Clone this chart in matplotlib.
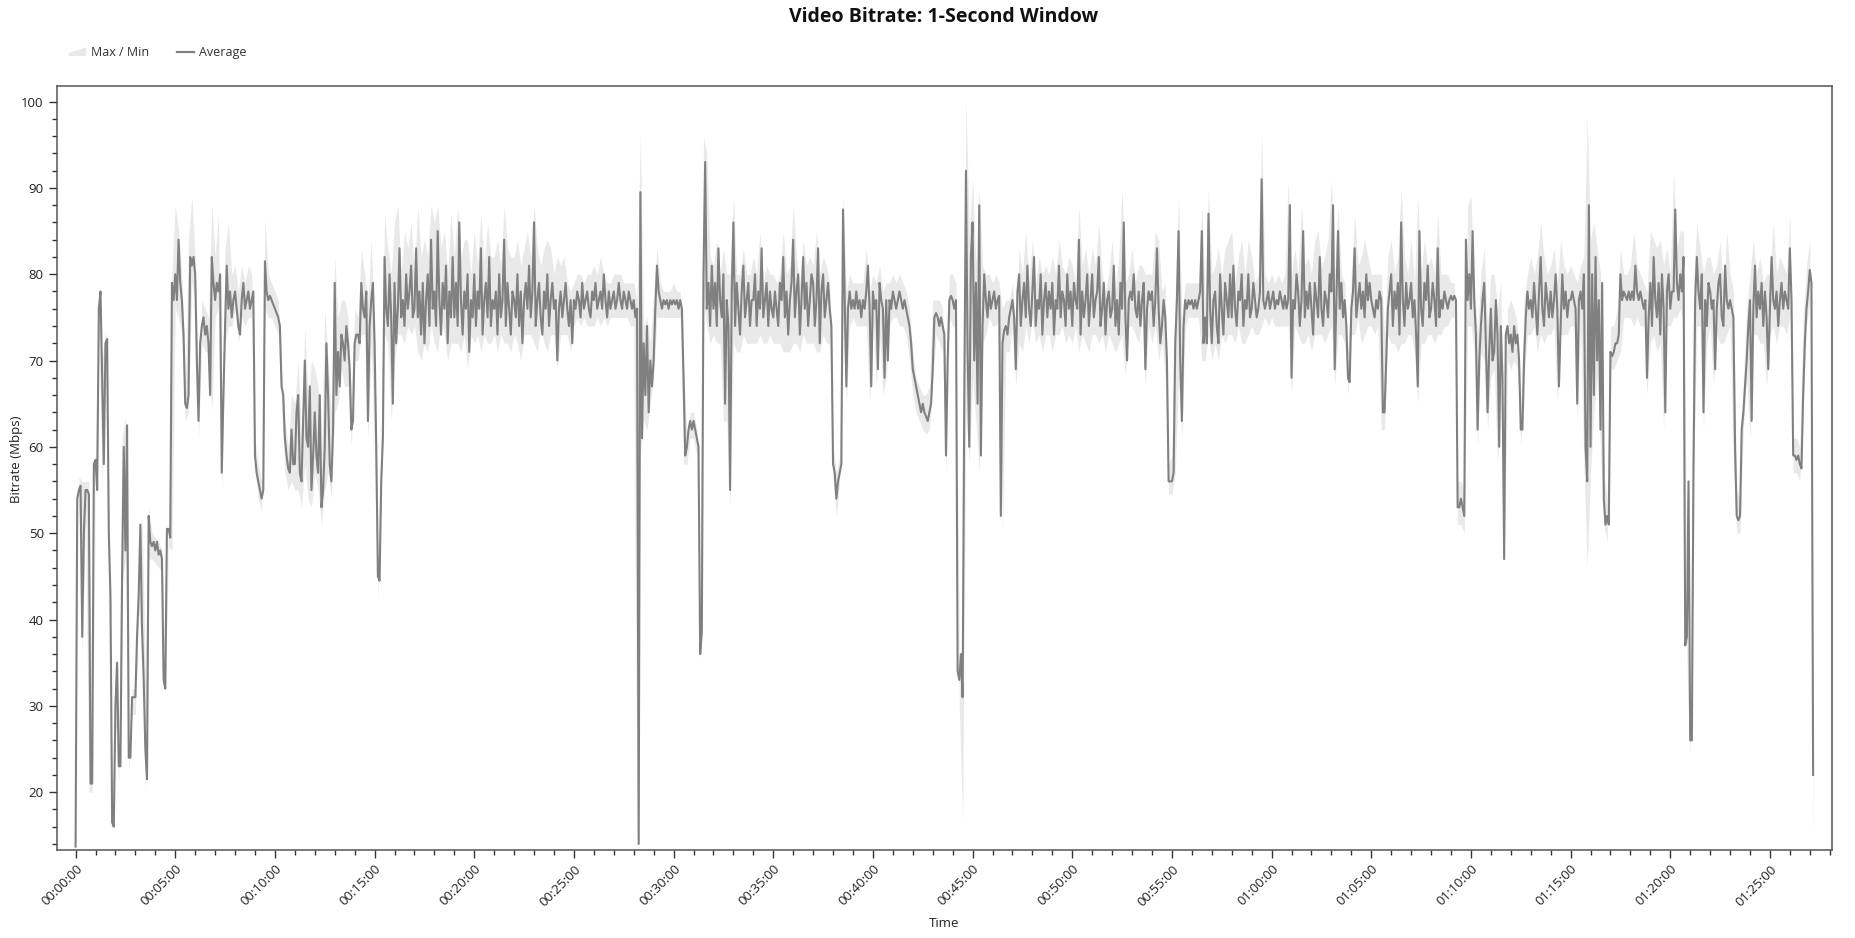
import numpy as np
import matplotlib.pyplot as plt
from matplotlib.ticker import MultipleLocator, FuncFormatter
from matplotlib.patches import Polygon, Patch
from matplotlib.lines import Line2D
from matplotlib.legend_handler import HandlerPatch

plt.rcParams['font.family'] = ['Open Sans', 'DejaVu Sans']

# average every 5 s (one row = one minute)
avg_step_s = 5
avg_mbps = [
    13.7, 54, 55, 55.5, 38, 50, 55, 55, 54.5, 21, 21, 58,
    58.5, 55, 76, 78, 68, 58, 72, 72.5, 50, 42.7, 16.5, 16,
    30, 35, 23, 23, 45, 60, 48, 62.5, 24, 24, 31, 31,
    31, 38, 43, 51, 39, 33, 25, 21.5, 52, 49, 48.5, 49,
    48, 49, 47.5, 48, 47, 33, 32, 50.5, 50.5, 49.5, 79, 77,
    80, 77, 84, 79, 77, 73, 65, 64.5, 66, 82, 81, 82,
    80, 70, 63, 72, 74, 75, 73, 74, 72, 66, 82, 79,
    77, 79, 78, 80, 57, 66, 74, 81, 76, 78, 75, 77,
    78, 76, 74, 73, 77, 79, 76, 77, 78, 76, 77, 78,
    59, 57, 56, 55, 54, 55, 81.5, 78, 77, 77.5, 77, 76.5,
    76, 75.5, 75, 74, 67, 66, 61, 59, 57.5, 57, 62, 58,      # 00:10
    58, 64, 66, 57, 56, 63, 70, 61, 60, 67, 55, 59,
    64, 59, 57, 66, 53, 55, 60, 72, 66, 58, 56, 62,
    79, 66, 71, 67, 73, 72, 70, 74, 72, 69, 62, 63,
    72, 73, 73, 72, 79, 76, 75, 78, 63, 74, 77, 79,
    72, 60, 45, 44.5, 56, 61, 82, 76, 74, 80, 75, 65,
    79, 72, 76, 83, 75, 77, 74, 80, 76, 78, 81, 75,
    76, 83, 75, 78, 73, 79, 72, 77, 80, 74, 84, 76,
    78, 74, 85, 77, 73, 79, 76, 81, 72, 78, 75, 82,
    75, 79, 74, 86, 77, 73, 78, 76, 80, 71, 77, 75,
    80, 74, 78, 76, 83, 73, 77, 79, 75, 82, 74, 77,          # 00:20
    76, 78, 73, 80, 75, 77, 84, 74, 79, 76, 73, 78,
    77, 75, 80, 74, 78, 72, 77, 79, 76, 81, 75, 78,
    86, 74, 77, 79, 75, 73, 78, 76, 80, 74, 77, 79,
    76, 77, 70, 76, 78, 75, 77, 79, 76, 74, 77, 72,
    77, 76, 78, 77, 75, 79, 76, 77, 78, 76, 75, 78,
    77, 79, 76, 77, 78, 76, 80, 77, 75, 78, 76, 77,
    78, 76, 77, 79, 77, 76, 78, 77, 76, 78, 77, 76,
    77, 75, 76, 14, 89.5, 61, 72, 66, 74, 64, 70, 67,
    70, 76, 81, 78, 77, 76, 77, 76.5, 77, 76, 77, 76.5,
    77, 76.5, 77, 76, 77, 76, 68, 59, 60, 62, 63, 62,        # 00:30
    63, 62, 61, 60, 36, 38.5, 80, 93, 76, 79, 74, 81,
    76, 79, 74, 83, 77, 75, 80, 65, 77, 74, 55, 78,
    86, 74, 79, 76, 73, 78, 81, 75, 77, 79, 74, 77,
    77, 80, 74, 78, 76, 83, 75, 77, 79, 74, 78, 76,
    75, 78, 76, 74, 79, 77, 82, 75, 78, 73, 77, 79,
    84, 75, 78, 80, 73, 77, 82, 76, 79, 74, 77, 80,
    79, 74, 77, 83, 72, 78, 80, 75, 77, 79, 76, 74,
    58, 57, 54, 56, 57, 58, 87.5, 77, 67, 76, 78, 76,
    77, 76, 78, 76, 77, 75, 77, 76, 78, 81, 76, 67,
    78, 76, 77, 69, 79, 77, 76, 68, 77, 70, 77, 76,          # 00:40
    78, 77, 76, 77, 78, 77, 76, 77, 76, 75, 74, 72,
    69, 68, 67, 66, 65, 64, 65, 64, 63.5, 63, 64, 65,
    69, 75, 75.5, 75, 74, 75, 74, 73, 59, 70, 77, 77.5,
    77, 76, 77, 34, 33, 36, 31, 66, 92, 71, 60, 82,
    86, 70, 79, 65, 88, 59, 74, 80, 77, 75, 78, 76,
    77, 78, 76, 77, 77.5, 52, 72, 73.5, 74, 73, 75, 76,
    77, 75, 69, 78, 80, 74, 77, 79, 75, 81, 76, 74,
    78, 82, 74, 77, 76, 80, 73, 77, 79, 75, 78, 76,
    79, 73, 77, 76, 81, 75, 78, 77, 74, 80, 76, 78,
    74, 79, 77, 76, 84, 73, 78, 75, 77, 80, 74, 77,          # 00:50
    80, 75, 77, 78, 82, 74, 76, 79, 73, 77, 78, 75,
    76, 81, 74, 77, 73, 79, 76, 86, 75, 70, 77, 78,
    77, 80, 76, 75, 78, 74, 77, 79, 69, 76, 78, 77,
    78, 74, 77, 83, 76, 72, 74, 77, 75, 70, 56, 56,
    56, 57, 72, 77, 85, 70, 63, 74, 77, 76, 77, 76.5,
    77, 76, 77, 76, 77, 78, 85, 72, 75, 72, 87, 76,
    72, 77, 78, 74, 72, 80, 76, 73, 79, 77, 75, 80,
    75, 81, 76, 74, 78, 77, 80, 74, 77, 76, 80, 75,
    76, 79, 77, 75, 76, 78, 91, 77, 76, 77, 78, 76,
    77, 78, 76, 77, 76.5, 78, 77, 76, 77.5, 76, 77, 88,      # 01:00
    68, 77, 76, 80, 78, 74, 77, 85, 75, 78, 76, 79,
    76, 73, 79, 77, 75, 82, 76, 74, 78, 77, 75, 80,
    78, 88, 69, 77, 85, 76, 79, 75, 77, 74, 68, 67.5,
    76, 78, 83, 75, 77, 79, 76, 78, 75, 80, 77, 79,
    77, 76, 75, 77, 76, 78, 77, 64, 64, 70, 76, 78,
    80, 74, 78, 76, 79, 73, 86, 77, 74, 79, 76, 77,
    79, 75, 77, 73, 67, 85, 76, 74, 79, 77, 81, 75,
    76, 79, 77, 74, 83, 75, 77, 76, 78, 77, 76, 77,
    77.5, 77, 77.5, 77, 53, 53, 54, 53, 52, 84, 77, 80,
    76, 85, 77, 73, 62, 70, 74, 77, 79, 72, 64, 71,          # 01:10
    76, 70, 71, 77, 73, 60, 74, 68, 47, 73, 74, 72,
    73, 71, 74, 72, 73, 70, 62, 62, 70, 75, 78, 76,
    77, 75, 79, 76, 73, 78, 82, 76, 74, 79, 77, 75,
    78, 75, 77, 80, 76, 67, 74, 80, 76, 78, 75, 77,
    77, 78, 77, 76, 65, 77, 78, 76, 80, 60, 56, 88,
    60, 80, 66, 82, 70, 77, 62, 79, 54, 51, 52, 51,
    71, 70.5, 71, 72, 72, 73, 80, 77, 78, 77.5, 77, 78,
    77, 78, 77, 81, 78, 77, 78, 77, 76, 77, 68, 75,
    79, 74, 82, 77, 75, 79, 73, 80, 76, 64, 78, 80,
    76, 78, 78, 87.5, 79, 77, 80, 78, 82, 37, 38, 56,        # 01:20
    26, 26, 58, 77, 82, 78, 76, 80, 64, 77, 74, 79,
    78, 76, 77, 69, 76, 79, 80, 75, 74, 81, 77, 76,
    77, 76, 75, 60, 52, 51.5, 52, 62, 64, 67, 70, 74,
    77, 63, 76, 81, 75, 78, 76, 79, 74, 78, 75, 69,
    76, 82, 77, 76, 78, 74, 77, 79, 76, 78, 77, 76,
    83, 77, 59, 59, 58.5, 59, 58, 57.5, 66, 72, 76, 78,
    80.5, 79, 22,
]

# max / min envelope read every 10 s (one row = one minute)
band_step_s = 10
max_mbps = [
    14, 56.5, 56, 56, 56, 22,  59.5, 79, 70, 73.5, 51, 17.5,  36, 24, 61, 63.5, 25, 32,
    32, 44, 52, 34, 53, 50,  49.5, 49, 48, 33, 51.5, 80,  88, 85, 80, 67, 84, 89,
    82, 66, 77, 76, 75, 88,  82, 87, 59, 83, 86, 80,  81, 78, 81, 79, 81, 80,
    61, 58, 56, 86.5, 80, 79,  78, 77, 69, 63, 60, 66,  65, 70, 61, 74, 65, 70,
    69, 67, 57, 76, 70, 64,  82, 75, 77, 77, 75, 66,  76, 75, 83, 80, 77, 84,
    74, 46, 62, 87, 83, 80,  86, 88, 80, 85, 83, 86,  80, 88, 82, 84, 82, 88,
    86, 88, 83, 85, 80, 87,  82, 88, 82, 84, 84, 80,  85, 81, 87, 81, 86, 82,
    82, 84, 81, 88, 83, 82,  82, 84, 81, 83, 85, 82,  88, 83, 81, 83, 84, 83,
    80, 82, 81, 82, 79, 78,  79, 80, 80, 79, 80, 80,  81, 80, 82, 80, 79, 79,
    80, 80, 80, 79, 79, 79,  79, 77, 96.5, 74, 75, 72,  78, 83, 79, 78, 78, 78,
    79, 78, 78, 70, 61, 64,  64, 62, 39, 96, 94, 82,  81, 84, 80, 83, 80, 80,
    89, 80, 80, 83, 80, 80,  82, 80, 85, 79, 81, 80,  80, 79, 80, 85, 80, 81,
    88, 82, 79, 84, 81, 82,  81, 85, 80, 82, 81, 79,  60, 57, 59, 89, 78, 80,
    79, 79, 79, 79, 83, 78,  80, 79, 81, 78, 79, 79,  80, 79, 80, 79, 78, 76,
    71, 68, 67, 66, 66, 67,  77, 77, 77, 76, 61, 80,  80, 79, 36, 36, 100.5, 85,
    91, 81, 90, 81, 80, 80,  79, 80, 79, 76, 77, 77,  79, 73, 83, 80, 85, 79,
    84, 79, 82, 80, 81, 80,  82, 80, 84, 81, 80, 82,  81, 79, 88, 81, 83, 80,
    83, 81, 86, 80, 78, 80,  84, 78, 82, 90, 79, 80,  83, 79, 81, 81, 80, 80,
    80, 85, 84, 78, 79, 58,  59, 78, 89, 75, 79, 79,  79, 79, 79, 88, 77, 90,
    80, 81, 83, 80, 83, 84,  85, 79, 82, 84, 80, 84,  82, 79, 80, 96.5, 80, 79,
    80, 79, 80, 79, 80, 91,  80, 83, 80, 88, 81, 82,  80, 84, 85, 81, 82, 84,
    91, 80, 88, 80, 79, 71,  80, 87, 81, 82, 84, 82,  80, 80, 80, 80, 73, 82,
    84, 80, 82, 90, 82, 80,  84, 79, 89, 80, 84, 81,  82, 80, 87, 80, 80, 80,
    79, 79, 56, 56, 55, 88,  89, 79, 73, 80, 83, 74,  80, 80, 76, 79, 49, 76,
    77, 76, 74, 65, 77, 80,  82, 80, 82, 86, 82, 80,  81, 83, 79, 84, 81, 80,
    81, 80, 79, 81, 82, 98.5,  84, 86, 83, 80, 57, 54,  74, 74, 76, 83, 80, 80,
    81, 85, 81, 80, 79, 78,  85, 84, 83, 84, 81, 83,  80, 92, 83, 85, 85, 40,
    28, 79, 86, 83, 80, 82,  82, 80, 81, 84, 78, 85,  80, 78, 55, 54, 68, 76,
    80, 84, 80, 82, 79, 80,  80, 86, 80, 82, 81, 80,  87, 61, 61, 60, 75, 81,
    84, 23,
]
min_mbps = [
    13.5, 53, 36, 53, 20, 20,  54, 74, 55, 71, 41, 15.5,  29, 21, 44, 47, 22.5, 29,
    29, 41, 37, 20, 47, 47,  46.5, 46, 45.5, 31, 48.5, 48,  76, 75, 73, 63, 64, 79,
    77, 61, 72, 71, 71, 64,  75, 76, 55, 72, 74, 74,  76, 72, 75, 74, 75, 75,
    57, 54, 52.5, 76, 75, 75,  74, 73, 65, 57, 55, 56,  55, 55, 53, 58, 54, 53,
    57, 55, 51, 55, 57, 54,  64, 65, 69, 67, 67, 60,  70, 70, 73, 73, 61, 72,
    58, 42.5, 54, 73, 72, 63,  70, 73, 73, 72, 74, 73,  74, 71, 70, 72, 71, 74,
    72, 71, 75, 73, 70, 72,  72, 72, 71, 73, 69, 73,  72, 73, 71, 73, 72, 72,
    73, 71, 73, 72, 72, 71,  73, 72, 70, 73, 73, 73,  72, 71, 74, 72, 71, 73,
    73, 69, 73, 73, 73, 71,  74, 75, 74, 75, 74, 74,  74, 75, 74, 75, 74, 75,
    75, 75, 75, 75, 75, 74,  74, 13.5, 59, 63, 62, 65,  68, 75, 75, 75, 75, 75,
    75, 75, 75, 58, 58, 61,  61, 59, 35, 77, 74, 72,  73, 72, 72, 63, 63, 53,
    72, 71, 71, 73, 72, 72,  72, 72, 73, 72, 72, 73,  72, 72, 72, 71, 71, 71,
    72, 72, 71, 73, 72, 72,  72, 71, 71, 73, 72, 72,  56, 52, 56, 75, 65, 74,
    75, 74, 74, 74, 74, 65,  75, 67, 73, 66, 68, 74,  75, 75, 74, 74, 73, 70,
    66, 64, 63, 62, 61.5, 62,  67, 73, 72, 71, 57, 75,  74, 74, 30, 16.5, 64, 58,
    68, 63, 57, 72, 73, 75,  74, 74, 75, 50, 71, 71,  74, 67, 72, 71, 74, 72,
    75, 72, 73, 71, 73, 73,  71, 73, 73, 74, 72, 73,  72, 74, 71, 73, 72, 71,
    73, 73, 72, 73, 71, 73,  72, 71, 72, 73, 68, 74,  74, 73, 72, 75, 67, 74,
    72, 74, 70, 72, 68, 54.5,  54.5, 57, 68, 61, 74, 75,  75, 75, 75, 70, 70, 73,
    70, 72, 70, 73, 72, 73,  73, 72, 74, 72, 72, 73,  74, 73, 73, 74, 75, 74,
    75, 74, 74, 74, 74, 74,  66, 74, 73, 72, 72, 73,  71, 73, 73, 73, 72, 73,
    74, 67, 73, 73, 72, 66,  73, 73, 75, 72, 73, 74,  74, 73, 74, 62, 62, 73,
    72, 72, 71, 72, 72, 73,  73, 71, 65, 72, 72, 73,  73, 72, 73, 73, 74, 74,
    75, 75, 51, 51, 50, 74,  74, 71, 60, 71, 70, 62,  68, 69, 58, 66, 46.5, 70,
    69, 70, 69, 60, 68, 73,  73, 74, 71, 73, 72, 73,  73, 74, 65, 73, 73, 73,
    74, 74, 63, 74, 58, 46,  57, 64, 68, 60, 51, 49,  69, 69, 70, 71, 75, 75,
    75, 74, 75, 74, 74, 66,  72, 73, 71, 72, 62, 74,  74, 75, 75, 76, 74, 35,
    24, 56, 74, 74, 62, 72,  74, 67, 73, 72, 72, 73,  74, 58, 50, 50, 62, 68,
    61, 73, 73, 72, 72, 67,  73, 74, 72, 74, 74, 73,  75, 57, 57, 56, 64, 74,
    77, 13.5,
]

assert len(max_mbps) == len(min_mbps)

avg_time = np.arange(len(avg_mbps)) * avg_step_s
band_time = np.arange(len(max_mbps)) * band_step_s


def hms(x, pos=None):
    x = int(round(x))
    return '%02d:%02d:%02d' % (x // 3600, (x % 3600) // 60, x % 60)


def band_swatch(legend, orig_handle, xdescent, ydescent, width, height, fontsize):
    # sloped area icon like the original legend
    return Polygon([(-xdescent, -ydescent), (-xdescent + width, -ydescent),
                    (-xdescent + width, -ydescent + height),
                    (-xdescent, -ydescent + height * 0.35)], closed=True)


fig = plt.figure(figsize=(18.56, 9.38), dpi=100)
ax = fig.add_axes([0.0307, 0.0938, 0.9564, 0.8145])

band_color = '#e9e9e9'
line_color = '#808080'

ax.fill_between(band_time, min_mbps, max_mbps, color=band_color, lw=0)
ax.plot(avg_time, avg_mbps, color=line_color, lw=1.5)

ax.set_xlim(-56, 5287)
ax.set_ylim(13.3, 101.8)

ax.xaxis.set_major_locator(MultipleLocator(300))
ax.xaxis.set_minor_locator(MultipleLocator(60))
ax.xaxis.set_major_formatter(FuncFormatter(hms))
ax.yaxis.set_major_locator(MultipleLocator(10))
ax.yaxis.set_minor_locator(MultipleLocator(2))

ax.tick_params(which='major', length=6, width=1, color='#333333', labelsize=9.5, labelcolor='#222222')
ax.tick_params(which='minor', length=3.5, width=1, color='#333333')
ax.tick_params(axis='x', which='major', pad=3)
for lbl in ax.get_xticklabels():
    lbl.set_rotation(45)
    lbl.set_ha('right')
    lbl.set_va('top')
    lbl.set_rotation_mode('anchor')

for s in ax.spines.values():
    s.set_color('#555555')
    s.set_linewidth(1.1)

ax.set_xlabel('Time', fontsize=9.5, color='#222222', labelpad=6)
fig.text(17 / 1856, 0.51, 'Bitrate (Mbps)', rotation=90, ha='center', va='center',
         fontsize=9.5, color='#222222')

fig.text(0.5085, 0.982, 'Video Bitrate: 1-Second Window', ha='center', va='center',
         fontsize=14, fontweight='bold', color='#111111')

handles = [Patch(facecolor=band_color, edgecolor='none'),
           Line2D([], [], color=line_color, lw=1.6)]
fig.legend(handles, ['Max / Min', 'Average'], loc='center left',
           bbox_to_anchor=(0.031, 0.944), ncol=2, frameon=False, fontsize=9,
           handlelength=1.4, handletextpad=0.4, columnspacing=2.2,
           handler_map={Patch: HandlerPatch(patch_func=band_swatch)},
           labelcolor='#333333')

fig.savefig('out.png', dpi=100)
